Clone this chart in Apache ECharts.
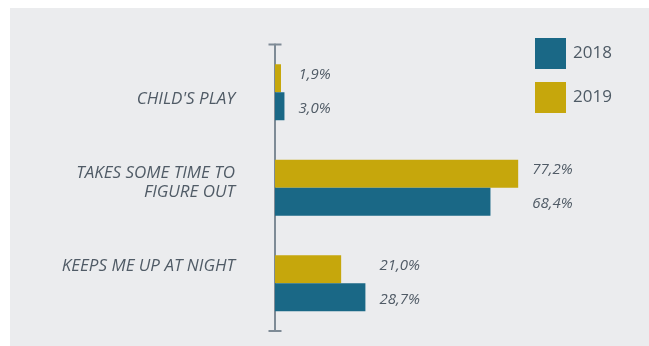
<!DOCTYPE html>
<html>
<head>
<meta charset="utf-8">
<script src="https://cdn.jsdelivr.net/npm/echarts@6/dist/echarts.min.js"></script>
<style>
  html, body { margin: 0; padding: 0; background: #ffffff; }
  #wrap { position: relative; width: 649px; height: 346px; background: #ffffff; }
  #chart { position: absolute; left: 10px; top: 8px; width: 639px; height: 338px; }
</style>
</head>
<body>
<div id="wrap"><div id="chart"></div></div>
<script>
// Survey answers, share of respondents (%)
const categories = ["CHILD'S PLAY", 'TAKES SOME TIME TO\nFIGURE OUT', 'KEEPS ME UP AT NIGHT'];
const years = ['2018', '2019'];
const values2018 = [3.0, 68.4, 28.7];
const values2019 = [1.9, 77.2, 21.0];

const BLUE = '#1a6886';
const GOLD = '#c6a70c';
const TEXT = '#505b66';
const FONT = '"Open Sans", "Noto Sans", sans-serif';

// largest answer per group, used to line up both value labels of a group
const groupMax = categories.map((_, i) => Math.max(values2018[i], values2019[i]));

const fmt = v => v.toFixed(1).replace('.', ',') + '%';

const chart = echarts.init(document.getElementById('chart'), null, { renderer: 'canvas' });

const valueLabel = {
  show: true,
  position: 'right',
  formatter: p => fmt(p.value),
  fontFamily: FONT,
  fontStyle: 'italic',
  fontSize: 15,
  color: TEXT
};

chart.setOption({
  backgroundColor: '#ebecee',
  animation: false,
  legend: {
    data: years,
    orient: 'vertical',
    left: 525,
    top: 30,
    padding: 0,
    itemWidth: 31,
    itemHeight: 31,
    itemGap: 13,
    icon: 'rect',
    textStyle: { fontFamily: FONT, fontSize: 17, color: '#4e5a65', padding: [0, 0, 0, 2] }
  },
  grid: [
    { left: 265, width: 315, top: 36.5, height: 286.5 },
    { left: 265, width: 315, top: 49.25, height: 250.5 }
  ],
  xAxis: [
    { type: 'value', gridIndex: 0, min: 0, max: 100, show: false },
    { type: 'value', gridIndex: 1, min: 0, max: 1, show: false }
  ],
  yAxis: [
    {
      type: 'category',
      gridIndex: 0,
      data: categories,
      inverse: true,
      axisLine: {
        show: true,
        symbol: ['rect', 'rect'],
        symbolSize: [13, 2],
        lineStyle: { color: '#7e8b96', width: 2 }
      },
      axisTick: { show: false },
      axisLabel: { show: false },
      splitLine: { show: false }
    },
    {
      // category names, spaced on their own band
      type: 'category',
      gridIndex: 1,
      data: categories,
      inverse: true,
      axisLine: { show: false },
      axisTick: { show: false },
      splitLine: { show: false },
      axisLabel: {
        margin: 40,
        fontFamily: FONT,
        fontStyle: 'italic',
        fontSize: 17,
        lineHeight: 19,
        color: TEXT,
        align: 'right'
      }
    }
  ],
  // 2019 is listed first so it sits above 2018 in each group
  series: [
    {
      name: '2019',
      type: 'bar',
      xAxisIndex: 0,
      yAxisIndex: 0,
      data: values2019,
      barWidth: 28,
      barGap: '0%',
      itemStyle: { color: GOLD },
      label: valueLabel
    },
    {
      name: '2018',
      type: 'bar',
      xAxisIndex: 0,
      yAxisIndex: 0,
      data: values2018,
      barWidth: 28,
      barGap: '0%',
      itemStyle: { color: BLUE },
      label: valueLabel
    }
  ],
  labelLayout: function (p) {
    const upper = p.seriesIndex === 0;
    const v = upper ? values2019[p.dataIndex] : values2018[p.dataIndex];
    const endX = p.rect.x + p.rect.width * (groupMax[p.dataIndex] / v);
    const cy = p.rect.y + p.rect.height / 2;
    return {
      x: endX + 14,
      y: cy + (upper ? -4 : 2),
      align: 'left',
      verticalAlign: 'middle'
    };
  }
});
</script>
</body>
</html>
